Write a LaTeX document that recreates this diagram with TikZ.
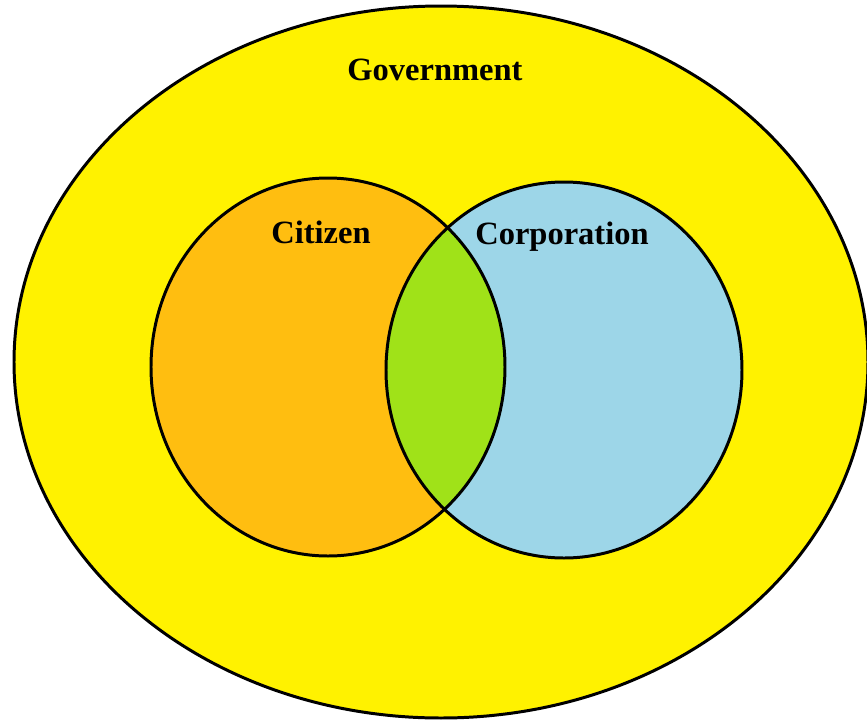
\documentclass[tikz,border=0pt]{standalone}
\usepackage{fontspec}
\setmainfont{Liberation Serif}
\definecolor{govyellow}{RGB}{255,242,0}
\definecolor{citorange}{RGB}{255,190,16}
\definecolor{corpblue}{RGB}{157,214,232}
\definecolor{bothgreen}{RGB}{160,226,24}
\tikzset{
    outline/.style={line width=1.7pt,draw=black},
    setlabel/.style={font=\fontsize{18.5}{20}\selectfont\bfseries,anchor=base,inner sep=0pt}
}

\begin{document}
\begin{tikzpicture}[x=0.02cm,y=-0.02cm]
    \useasboundingbox (0,0) rectangle (867,721);
    \fill[white] (0,0) rectangle (867,721);
    \clip (0,0) rectangle (867,721);

    \draw[outline,fill=govyellow] (441,362) ellipse (427 and 356);

    \fill[citorange] (328,367) ellipse (177 and 189);
    \fill[corpblue]  (564,370) ellipse (178 and 188);
    \begin{scope}
        \clip (328,367) ellipse (177 and 189);
        \fill[bothgreen] (564,370) ellipse (178 and 188);
    \end{scope}
    \draw[outline] (328,367) ellipse (177 and 189);
    \draw[outline] (564,370) ellipse (178 and 188);

    \node[setlabel] (government) at (435,80) {Government};
    \node[setlabel] (citizen) at (321,243) {Citizen};
    \node[setlabel] (corporation) at (562,244) {Corporation};
\end{tikzpicture}
\end{document}
